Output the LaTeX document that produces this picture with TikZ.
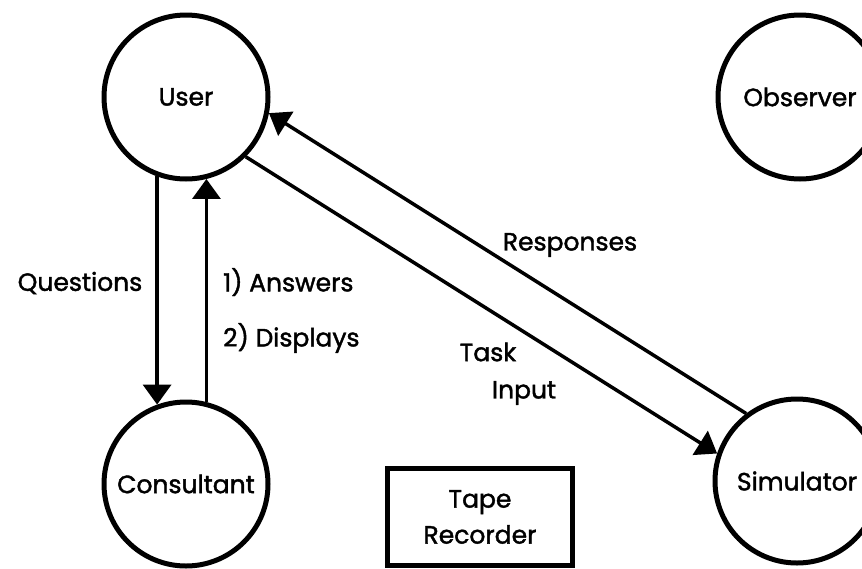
\documentclass[tikz,border=0pt]{standalone}
\usepackage{fontspec}
\setmainfont{Poppins}[FakeBold=1.6]
\usetikzlibrary{arrows.meta}
\begin{document}
\begin{tikzpicture}[x=1pt,y=-1pt,
  lbl/.style={font=\fontsize{25}{28}\selectfont, inner sep=0pt},
  party/.style={circle, draw, line width=5pt, minimum size=164pt, inner sep=0pt,
    font=\fontsize{25}{28}\selectfont},
  flow/.style={line width=3.5pt, -{Triangle[length=20pt,width=28pt]}},
  device/.style={draw, line width=4.5pt, minimum width=185pt, minimum height=97pt,
    align=center, font=\fontsize{25}{36}\selectfont}]
\useasboundingbox[fill=white] (0,0) rectangle (862,568);

% participants
\node[party] (user) at (186,97) {User};
\node[party] (observer) at (800,97) {Observer};
\node[party] (consultant) at (186,484) {Consultant};
\node[party] (simulator) at (797,481) {Simulator};
\node[device] (tape) at (480,517) {Tape\\Recorder};

% user <-> consultant
\draw[flow] (user.-110.7) -- (consultant.110.7);
\draw[flow] (consultant.76.6) -- (user.-76.6);

% user <-> simulator
\draw[flow] (simulator.127.1) -- (user.-11.4);
\draw[flow] (user.-45.5) -- (simulator.161.2);

% flow labels
\node[lbl] (questions) at (80,283) {Questions};
\node[lbl, anchor=west] (answers) at (223,282) {1) Answers};
\node[lbl, anchor=west] (displays) at (223,338) {2) Displays};
\node[lbl] (responses) at (570,245) {Responses};
\node[lbl] (task) at (488,352) {Task};
\node[lbl] (input) at (524,393) {Input};
\end{tikzpicture}
\end{document}
